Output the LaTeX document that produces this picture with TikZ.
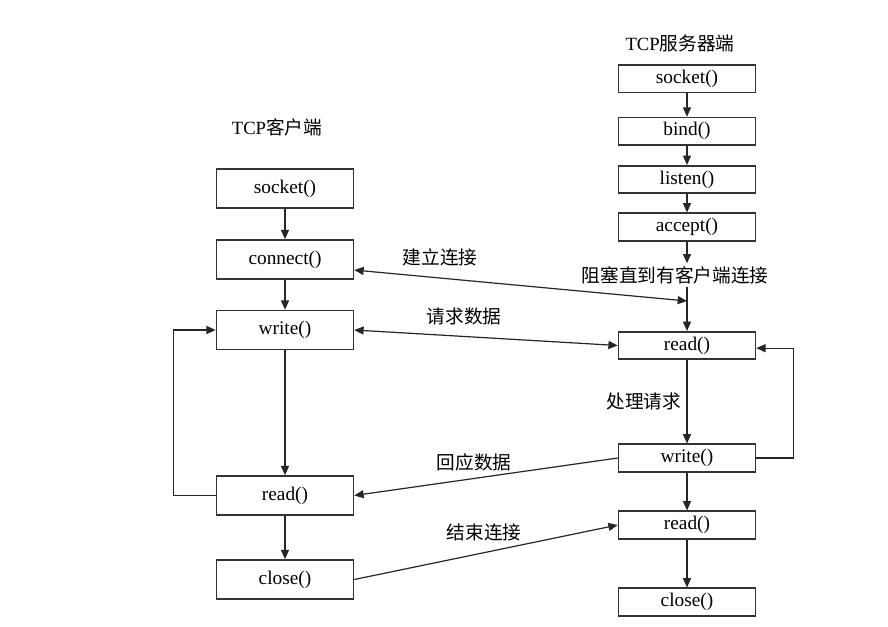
\documentclass[tikz,border=0pt]{standalone}
\usepackage{fontspec}
\setmainfont{Liberation Serif}
\newfontfamily\cjk{Noto Sans CJK SC}
\usetikzlibrary{arrows.meta}
\begin{document}
\begin{tikzpicture}[x=0.75pt,y=-0.75pt,
  box/.style={draw=black!80, line width=1.2pt, minimum width=102.75pt, inner sep=0pt,
    font=\fontsize{14.5}{16}\selectfont},
  cbox/.style={box, minimum height=29.25pt},
  sbox/.style={box, minimum height=20.6pt},
  tip/.tip={Triangle[length=7pt,width=6pt]},
  arr/.style={-tip, line width=1pt, draw=black!85},
  darr/.style={tip-tip, line width=0.9pt, draw=black!85},
  lbl/.style={font=\cjk\fontsize{14}{16}\selectfont, inner sep=0pt},
  ttl/.style={font=\fontsize{14}{16}\selectfont, inner sep=0pt}
]
\useasboundingbox[fill=white] (0,0) rectangle (888,626);

% titles
\node[ttl] (ctitle) at (277,127) {TCP{\cjk 客户端}};
\node[ttl] (stitle) at (680,43) {TCP{\cjk 服务器端}};

% client column
\node[cbox] (csocket)  at (285,188.5) {socket()};
\node[cbox] (cconnect) at (285,259.5) {connect()};
\node[cbox] (cwrite)   at (285,330)   {write()};
\node[cbox] (cread)    at (285,495.5) {read()};
\node[cbox] (cclose)   at (285,579.5) {close()};

% server column
\node[sbox] (ssocket) at (687,78.7)  {socket()};
\node[sbox] (sbind)   at (687,131.3) {bind()};
\node[sbox] (slisten) at (687,179.5) {listen()};
\node[sbox] (saccept) at (687,227)   {accept()};
\node[lbl, inner sep=2pt] (blk) at (675,275) {阻塞直到有客户端连接};
\node[sbox] (sread)   at (687,345.5) {read()};
\node[sbox] (swrite)  at (687,458)   {write()};
\node[sbox] (sread2)  at (687,525)   {read()};
\node[sbox] (sclose)  at (687,602)   {close()};

% client arrows
\draw[arr] (csocket) -- (cconnect);
\draw[arr] (cconnect) -- (cwrite);
\draw[arr] (cwrite) -- (cread);
\draw[arr] (cread) -- (cclose);
\draw[arr] (cread.west) -- ++(-42,0) |- (cwrite.west);

% server arrows
\draw[arr] (ssocket) -- (sbind);
\draw[arr] (sbind) -- (slisten);
\draw[arr] (slisten) -- (saccept);
\draw[arr] (saccept.south) -- (saccept.south |- blk.north);
\draw[arr] (saccept.south |- blk.south) -- (sread.north);
\draw[arr] (sread) -- node[lbl, anchor=east, xshift=-4pt] (proc) {处理请求} (swrite);
\draw[arr] (swrite) -- (sread2);
\draw[arr] (sread2) -- (sclose);
\draw[arr] (swrite.east) -- ++(37,0) |- ([yshift=-2pt]sread.east);

% cross arrows
\coordinate (estab) at (saccept.south |- 0,301);
\draw[darr] ([yshift=-7.9pt]cconnect.east) -- (estab);
\node[lbl] (l1) at (440,257) {建立连接};
\draw[darr] (cwrite.east) -- (sread.west);
\node[lbl] (l2) at (464,316) {请求数据};
\draw[arr, line width=0.9pt] (swrite.west) -- (cread.east);
\node[lbl] (l3) at (474,462) {回应数据};
\draw[arr, line width=0.9pt] (cclose.east) -- (sread2.west);
\node[lbl] (l4) at (484,532) {结束连接};
\end{tikzpicture}
\end{document}
